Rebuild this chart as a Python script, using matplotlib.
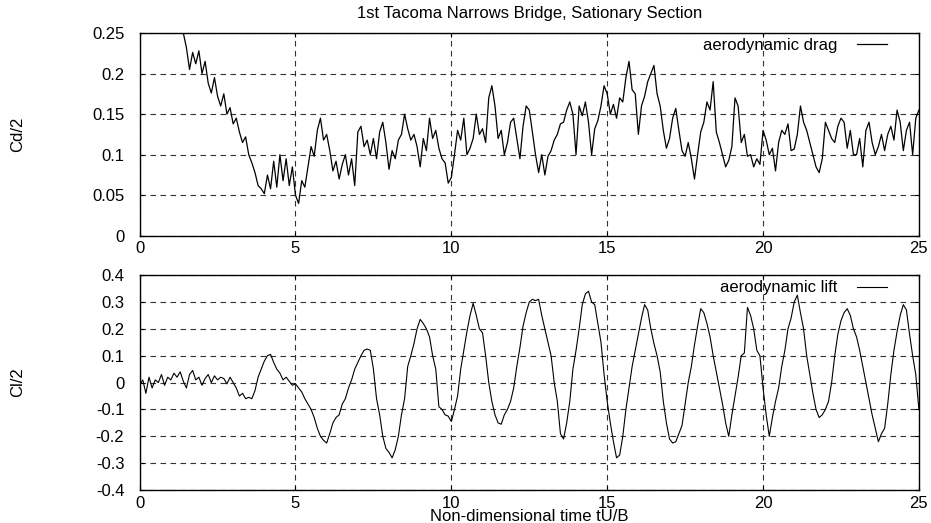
import numpy as np
import matplotlib
matplotlib.use('Agg')
import matplotlib.pyplot as plt

TIME_STEP = 0.1

# drag starts at tU/B = 1.0 (earlier values lie above the 0.25 axis limit)
DRAG_START = 1.0
drag = [
    0.29, 0.285, 0.275, 0.262, 0.25, 0.232, 0.205, 0.226, 0.212, 0.228,   # 1.0 - 1.9
    0.2, 0.215, 0.188, 0.176, 0.195, 0.172, 0.16, 0.175, 0.15, 0.158,     # 2.0
    0.138, 0.145, 0.128, 0.115, 0.122, 0.1, 0.09, 0.078, 0.062, 0.058,    # 3.0
    0.052, 0.075, 0.058, 0.092, 0.06, 0.1, 0.068, 0.095, 0.062, 0.085,    # 4.0
    0.05, 0.04, 0.068, 0.06, 0.085, 0.11, 0.098, 0.13, 0.145, 0.118,      # 5.0
    0.125, 0.105, 0.08, 0.092, 0.07, 0.088, 0.1, 0.075, 0.095, 0.062,     # 6.0
    0.128, 0.135, 0.11, 0.118, 0.1, 0.12, 0.095, 0.128, 0.14, 0.115,      # 7.0
    0.082, 0.105, 0.095, 0.118, 0.125, 0.15, 0.132, 0.118, 0.125, 0.11,   # 8.0
    0.085, 0.12, 0.105, 0.145, 0.12, 0.13, 0.108, 0.095, 0.09, 0.065,     # 9.0
    0.072, 0.1, 0.13, 0.118, 0.145, 0.1, 0.108, 0.12, 0.15, 0.125,       # 10.0
    0.132, 0.115, 0.17, 0.185, 0.16, 0.12, 0.13, 0.1, 0.115, 0.14,        # 11.0
    0.145, 0.12, 0.095, 0.135, 0.16, 0.155, 0.128, 0.1, 0.078, 0.1,      # 12.0
    0.075, 0.098, 0.105, 0.118, 0.125, 0.138, 0.14, 0.155, 0.165, 0.15,   # 13.0
    0.1, 0.16, 0.148, 0.165, 0.14, 0.1, 0.132, 0.142, 0.16, 0.185,        # 14.0
    0.175, 0.15, 0.162, 0.145, 0.17, 0.165, 0.195, 0.215, 0.18, 0.175,    # 15.0
    0.125, 0.16, 0.172, 0.19, 0.2, 0.21, 0.175, 0.16, 0.13, 0.108,        # 16.0
    0.12, 0.145, 0.157, 0.13, 0.105, 0.098, 0.115, 0.095, 0.07, 0.1,      # 17.0
    0.128, 0.14, 0.165, 0.155, 0.19, 0.128, 0.115, 0.1, 0.085, 0.093,     # 18.0
    0.11, 0.17, 0.16, 0.115, 0.125, 0.098, 0.1, 0.085, 0.095, 0.088,      # 19.0
    0.13, 0.118, 0.1, 0.108, 0.08, 0.115, 0.13, 0.125, 0.138, 0.105,      # 20.0
    0.107, 0.125, 0.16, 0.14, 0.13, 0.115, 0.1, 0.085, 0.078, 0.095,      # 21.0
    0.14, 0.13, 0.12, 0.115, 0.135, 0.145, 0.14, 0.108, 0.13, 0.1,        # 22.0
    0.1, 0.12, 0.085, 0.13, 0.14, 0.115, 0.1, 0.11, 0.125, 0.105,         # 23.0
    0.125, 0.135, 0.118, 0.155, 0.14, 0.105, 0.13, 0.14, 0.1, 0.145,      # 24.0
    0.155,                                                                # 25.0
]

LIFT_START = 0.0
lift = [
    -0.01, 0.01, -0.04, 0.02, -0.02, 0.01, 0.0, 0.03, -0.01, 0.02,        # 0.0 - 0.9
    0.01, 0.035, 0.02, 0.04, 0.005, -0.02, 0.03, 0.045, 0.01, 0.02,       # 1.0
    -0.01, 0.015, 0.03, 0.0, 0.025, 0.01, 0.02, 0.015, -0.005, 0.02,      # 2.0
    0.0, -0.02, -0.05, -0.04, -0.06, -0.055, -0.06, -0.03, 0.02, 0.05,    # 3.0
    0.08, 0.1, 0.105, 0.075, 0.05, 0.035, 0.01, 0.02, 0.005, -0.01,       # 4.0
    -0.005, -0.02, -0.035, -0.06, -0.08, -0.1, -0.13, -0.17, -0.2, -0.215,  # 5.0
    -0.225, -0.19, -0.15, -0.13, -0.12, -0.08, -0.06, -0.02, 0.01, 0.05,  # 6.0
    0.075, 0.1, 0.12, 0.125, 0.12, 0.05, -0.06, -0.12, -0.2, -0.245,      # 7.0
    -0.26, -0.28, -0.25, -0.2, -0.12, -0.06, 0.06, 0.1, 0.145, 0.2,       # 8.0
    0.235, 0.22, 0.2, 0.17, 0.1, 0.05, -0.09, -0.1, -0.12, -0.125,        # 9.0
    -0.145, -0.1, -0.05, 0.05, 0.12, 0.19, 0.25, 0.295, 0.25, 0.2,        # 10.0
    0.185, 0.1, 0.0, -0.07, -0.12, -0.15, -0.155, -0.12, -0.1, -0.07,     # 11.0
    -0.02, 0.06, 0.13, 0.21, 0.26, 0.3, 0.31, 0.305, 0.31, 0.25,          # 12.0
    0.2, 0.15, 0.1, 0.0, -0.07, -0.19, -0.21, -0.15, -0.07, 0.05,         # 13.0
    0.12, 0.2, 0.29, 0.33, 0.34, 0.3, 0.29, 0.22, 0.15, 0.03,             # 14.0
    -0.07, -0.15, -0.22, -0.28, -0.27, -0.2, -0.1, -0.02, 0.06, 0.12,     # 15.0
    0.18, 0.24, 0.29, 0.27, 0.2, 0.145, 0.1, 0.04, -0.07, -0.15,          # 16.0
    -0.21, -0.225, -0.22, -0.19, -0.16, -0.08, 0.0, 0.06, 0.14, 0.21,     # 17.0
    0.275, 0.26, 0.22, 0.17, 0.1, 0.04, -0.02, -0.08, -0.15, -0.2,        # 18.0
    -0.12, -0.05, 0.02, 0.1, 0.11, 0.28, 0.25, 0.2, 0.12, 0.1,            # 19.0
    -0.02, -0.12, -0.2, -0.13, -0.07, -0.02, 0.06, 0.12, 0.2, 0.24,       # 20.0
    0.3, 0.325, 0.26, 0.2, 0.1, 0.03, -0.04, -0.1, -0.13, -0.12,          # 21.0
    -0.1, -0.07, 0.0, 0.1, 0.18, 0.23, 0.26, 0.275, 0.25, 0.2,            # 22.0
    0.17, 0.12, 0.06, 0.0, -0.06, -0.12, -0.17, -0.22, -0.19, -0.17,      # 23.0
    -0.08, 0.03, 0.12, 0.19, 0.25, 0.29, 0.27, 0.18, 0.1, 0.03,           # 24.0
    -0.1,                                                                 # 25.0
]

x_ticks = [0, 5, 10, 15, 20, 25]
drag_ticks = [0, 0.05, 0.1, 0.15, 0.2, 0.25]
drag_tick_labels = ['0', '0.05', '0.1', '0.15', '0.2', '0.25']
lift_ticks = [-0.4, -0.3, -0.2, -0.1, 0, 0.1, 0.2, 0.3, 0.4]
lift_tick_labels = ['-0.4', '-0.3', '-0.2', '-0.1', '0', '0.1', '0.2', '0.3', '0.4']

plt.rcParams['font.family'] = ['Liberation Sans', 'DejaVu Sans']


def style_axes(ax):
    ax.set_xlim(0, 25)
    ax.set_xticks(x_ticks)
    ax.set_xticklabels([str(v) for v in x_ticks])
    ax.tick_params(direction='in', length=3, labelsize=12, top=True, right=True)
    ax.tick_params(axis='y', pad=11)
    ax.tick_params(axis='x', pad=4)
    ax.grid(True, color='#333333', linestyle=(0, (5, 4)), linewidth=0.8)
    for s in ax.spines.values():
        s.set_linewidth(1.0)
    ax.set_axisbelow(True)


def add_legend(ax):
    ax.legend(loc='upper right', bbox_to_anchor=(0.959, 0.975), frameon=False,
              markerfirst=False, fontsize=12, handlelength=1.8, handletextpad=1.2,
              borderpad=0, borderaxespad=0)


t_drag = DRAG_START + TIME_STEP * np.arange(len(drag))
t_lift = LIFT_START + TIME_STEP * np.arange(len(lift))

fig = plt.figure(figsize=(9.31, 5.23), dpi=100)
ax1 = fig.add_axes([0.150, 0.549, 0.837, 0.388])
ax2 = fig.add_axes([0.150, 0.063, 0.837, 0.411])

# top: drag
ax1.plot(t_drag, drag, color='black', linewidth=0.9, label='aerodynamic drag')
style_axes(ax1)
ax1.set_ylim(0, 0.25)
ax1.set_yticks(drag_ticks)
ax1.set_yticklabels(drag_tick_labels)
ax1.set_ylabel('Cd/2', fontsize=12)
ax1.yaxis.set_label_coords(-0.147, 0.5)
ax1.set_title('1st Tacoma Narrows Bridge, Sationary Section', fontsize=12, pad=11)
add_legend(ax1)

# bottom: lift
ax2.plot(t_lift, lift, color='black', linewidth=0.8, label='aerodynamic lift')
style_axes(ax2)
ax2.set_ylim(-0.4, 0.4)
ax2.set_yticks(lift_ticks)
ax2.set_yticklabels(lift_tick_labels)
ax2.set_ylabel('Cl/2', fontsize=12)
ax2.yaxis.set_label_coords(-0.147, 0.5)
ax2.set_xlabel('Non-dimensional time tU/B', fontsize=12, labelpad=-1)
add_legend(ax2)

fig.savefig('out.png', dpi=100, facecolor='white')
